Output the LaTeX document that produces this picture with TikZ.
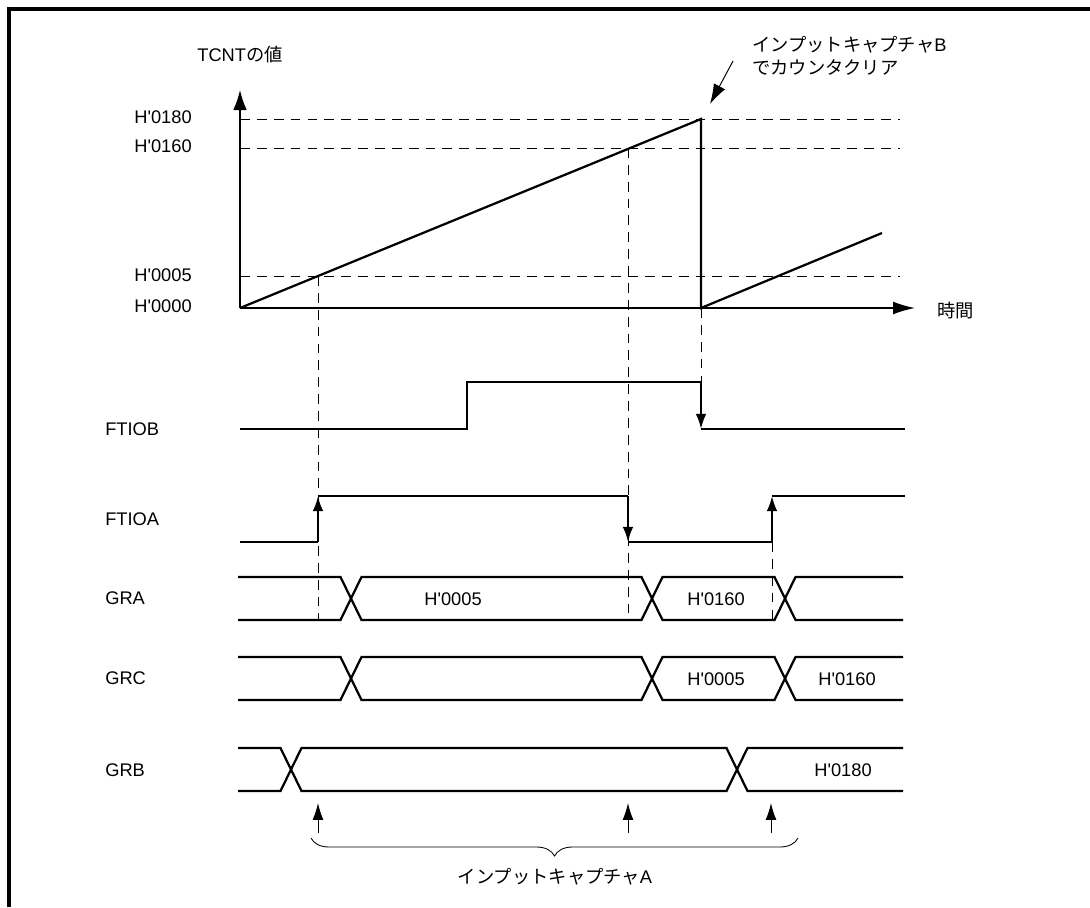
\documentclass[tikz,border=0pt]{standalone}
\usepackage{fontspec}
\setmainfont{Liberation Sans}
\newfontfamily\jp{Noto Sans CJK JP}
\usepackage{tikz}
\usetikzlibrary{arrows.meta}
\usetikzlibrary{decorations.pathreplacing}
\newcommand{\hv}[1]{H\textquotesingle#1}
\tikzset{
  wave/.style={line width=1.6pt},
  guide/.style={line width=0.7pt, dash pattern=on 7pt off 5pt},
  lbl/.style={font=\fontsize{13}{15}\selectfont, inner sep=0pt},
  edgearrow/.style={line width=1.6pt, -{Latex[length=0.38cm,width=0.27cm]}},
  thinarrow/.style={line width=0.7pt, -{Latex[length=0.42cm,width=0.27cm]}},
}

\begin{document}
\begin{tikzpicture}[x=0.025cm, y=-0.025cm]
  \useasboundingbox (0,0) rectangle (1090,907);
  \draw[line width=2.2pt] (9,907) -- (9,9) -- (1090,9);

  % axes
  \draw[line width=1pt, -{Latex[length=0.5cm,width=0.34cm]}] (240,308) -- (240,90);
  \draw[line width=1pt, -{Latex[length=0.55cm,width=0.32cm]}] (240,308) -- (915,308);
  \node[lbl] (tcnt) at (240,55) {TCNT{\jp の値}};
  \node[lbl, anchor=west] (time) at (937,311) {\jp 時間};
  \node[lbl, anchor=east] (v180) at (192,117) {\hv{0180}};
  \node[lbl, anchor=east] (v160) at (192,146) {\hv{0160}};
  \node[lbl, anchor=east] (v005) at (192,275) {\hv{0005}};
  \node[lbl, anchor=east] (v000) at (192,306) {\hv{0000}};

  % guide lines
  \foreach \y in {119,148,276}
    \draw[guide] (240,\y) -- (900,\y);
  \draw[guide] (318,276) -- (318,620);
  \draw[guide] (628,148) -- (628,620);
  \draw[guide] (701,308) -- (701,382);
  \draw[guide] (772,542) -- (772,620);

  % counter
  \draw[wave] (240,308) -- (701,119) -- (701,308) -- (882,233);
  \node[lbl, anchor=west] (capB) at (752,45) {{\jp インプットキャプチャ}B};
  \node[lbl, anchor=west] (clrB) at (752,67) {\jp でカウンタクリア};
  \coordinate (clrtail) at (733,61);
  \coordinate (clrtip) at (710,104);
  \draw[line width=0.7pt, -{Latex[length=0.5cm,width=0.32cm]}] (clrtail) -- (clrtip);

  % FTIOB
  \node[lbl, anchor=west] (ftiob) at (105,429) {FTIOB};
  \draw[wave] (240,429) -- (467,429) -- (467,382) -- (701,382);
  \draw[edgearrow] (701,382) -- (701,429);
  \draw[wave] (701,429) -- (905,429);

  % FTIOA
  \node[lbl, anchor=west] (ftioa) at (105,519) {FTIOA};
  \draw[wave] (240,542) -- (318,542);
  \draw[edgearrow] (318,542) -- (318,496);
  \draw[wave] (318,496) -- (628,496);
  \draw[edgearrow] (628,496) -- (628,542);
  \draw[wave] (628,542) -- (772,542);
  \draw[edgearrow] (772,542) -- (772,496);
  \draw[wave] (772,496) -- (905,496);

  % GRA
  \node[lbl, anchor=west] (gra) at (105,598) {GRA};
  \draw[wave] (238,577) -- (340.5,577) -- (361.5,620) -- (641.5,620) -- (662.5,577) -- (774.5,577) -- (795.5,620) -- (903,620);
  \draw[wave] (238,620) -- (340.5,620) -- (361.5,577) -- (641.5,577) -- (662.5,620) -- (774.5,620) -- (795.5,577) -- (903,577);
  \node[lbl] (graA) at (453,599) {\hv{0005}};
  \node[lbl] (graB) at (716,599) {\hv{0160}};

  % GRC
  \node[lbl, anchor=west] (grc) at (105,678) {GRC};
  \draw[wave] (238,657) -- (340.5,657) -- (361.5,700) -- (641.5,700) -- (662.5,657) -- (774.5,657) -- (795.5,700) -- (903,700);
  \draw[wave] (238,700) -- (340.5,700) -- (361.5,657) -- (641.5,657) -- (662.5,700) -- (774.5,700) -- (795.5,657) -- (903,657);
  \node[lbl] (grcA) at (716,679) {\hv{0005}};
  \node[lbl] (grcB) at (847,679) {\hv{0160}};

  % GRB
  \node[lbl, anchor=west] (grb) at (105,770) {GRB};
  \draw[wave] (238,748) -- (280.5,748) -- (301.5,791) -- (726.5,791) -- (747.5,748) -- (903,748);
  \draw[wave] (238,791) -- (280.5,791) -- (301.5,748) -- (726.5,748) -- (747.5,791) -- (903,791);
  \node[lbl] (grbA) at (843,770) {\hv{0180}};

  % capture A events
  \foreach \x in {318,628,771}
    \draw[thinarrow] (\x,833) -- (\x,803);
  \draw[line width=0.6pt, decorate, decoration={brace, amplitude=0.45cm}] (798,838) -- (311,838);
  \node[lbl] (capA) at (555,877) {{\jp インプットキャプチャ}A};
\end{tikzpicture}
\end{document}
